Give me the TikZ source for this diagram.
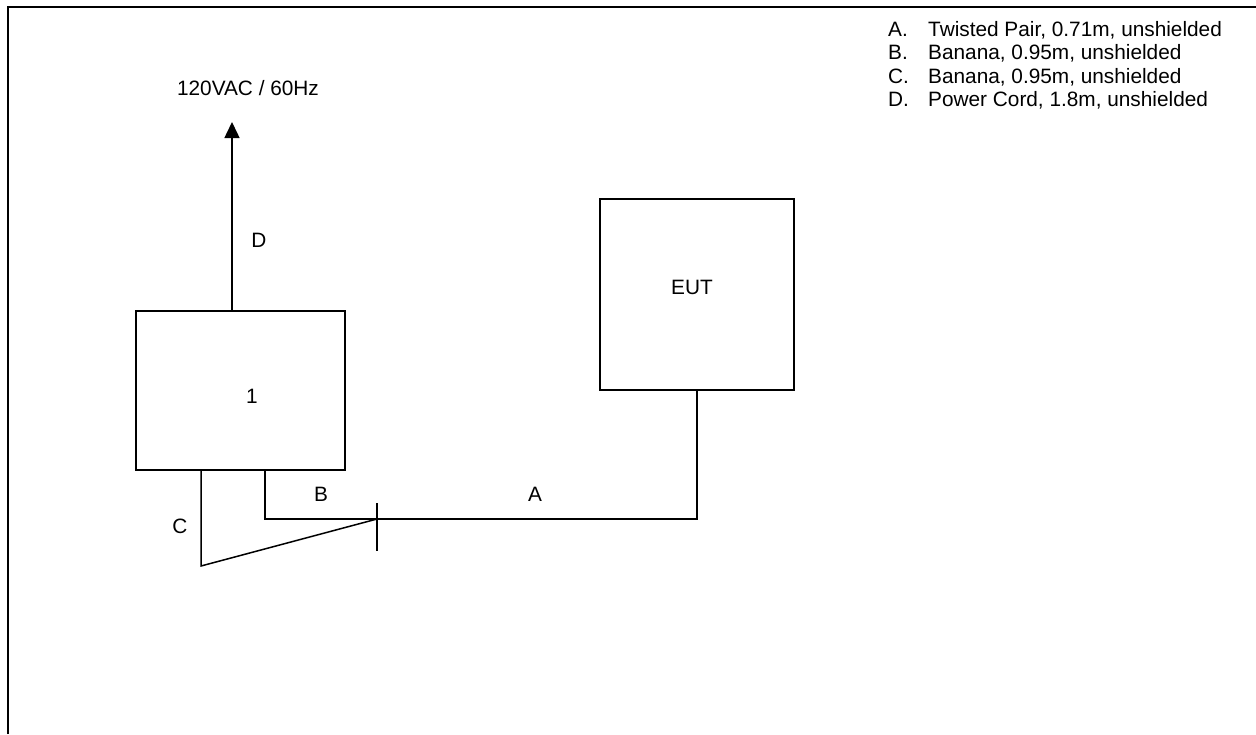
\documentclass[tikz,border=0pt]{standalone}
\usepackage{fontspec}
\setmainfont{Liberation Sans}
\usetikzlibrary{arrows.meta}
\begin{document}
\begin{tikzpicture}[x=1pt,y=-1pt,
  box/.style={draw,line width=1.5pt,inner sep=0pt},
  wire/.style={line width=1.5pt},
  lbl/.style={inner sep=0pt,font=\fontsize{20.8}{24}\selectfont},
  leg/.style={lbl,anchor=base west}]
\useasboundingbox (0,0) rectangle (1256,734);
\fill[white] (0,0) rectangle (1256,734);
\draw[line width=2pt] (8,734) -- (8,7) -- (1256,7);
% boxes
\node[box,minimum width=209pt,minimum height=159pt] (one) at (240.5,390.5) {};
\node[box,minimum width=194pt,minimum height=191pt] (eut) at (697,294.5) {};
\node[lbl] (onel) at (252,396) {1};
\node[lbl] (eutl) at (692,287) {EUT};
% coordinates
\coordinate (dtop) at (232,122);
\coordinate (j) at (377,519);
\coordinate (bx) at (265,470);
\coordinate (cb) at (201,566);
\coordinate (tt) at (377,503);
\coordinate (tb) at (377,551);
% connectors
\draw[wire,-{Triangle[length=16pt,width=15pt]}] (one.north -| dtop) -- (dtop);
\draw[wire] (one.south -| bx) -- (bx |- j) -- (j);
\draw[wire] (j) -- (eut.south |- j) -- (eut.south);
\draw[wire] (one.south -| cb) -- (cb) -- (j);
\draw[wire] (tt) -- (tb);
% labels
\node[lbl] (ac) at (248,88) {120VAC / 60Hz};
\node[lbl] (dl) at (259,240) {D};
\node[lbl] (bl) at (321,494) {B};
\node[lbl] (al) at (535,494) {A};
\node[lbl] (cl) at (180,526) {C};
% legend
\node[leg] (la) at (888,36) {A.};
\node[leg] (lb) at (888,59.5) {B.};
\node[leg] (lc) at (888,83) {C.};
\node[leg] (ld) at (888,106.5) {D.};
\node[leg] (ta) at (928,36) {Twisted Pair, 0.71m, unshielded};
\node[leg] (tb2) at (928,59.5) {Banana, 0.95m, unshielded};
\node[leg] (tc) at (928,83) {Banana, 0.95m, unshielded};
\node[leg] (td) at (928,106.5) {Power Cord, 1.8m, unshielded};
\end{tikzpicture}
\end{document}
